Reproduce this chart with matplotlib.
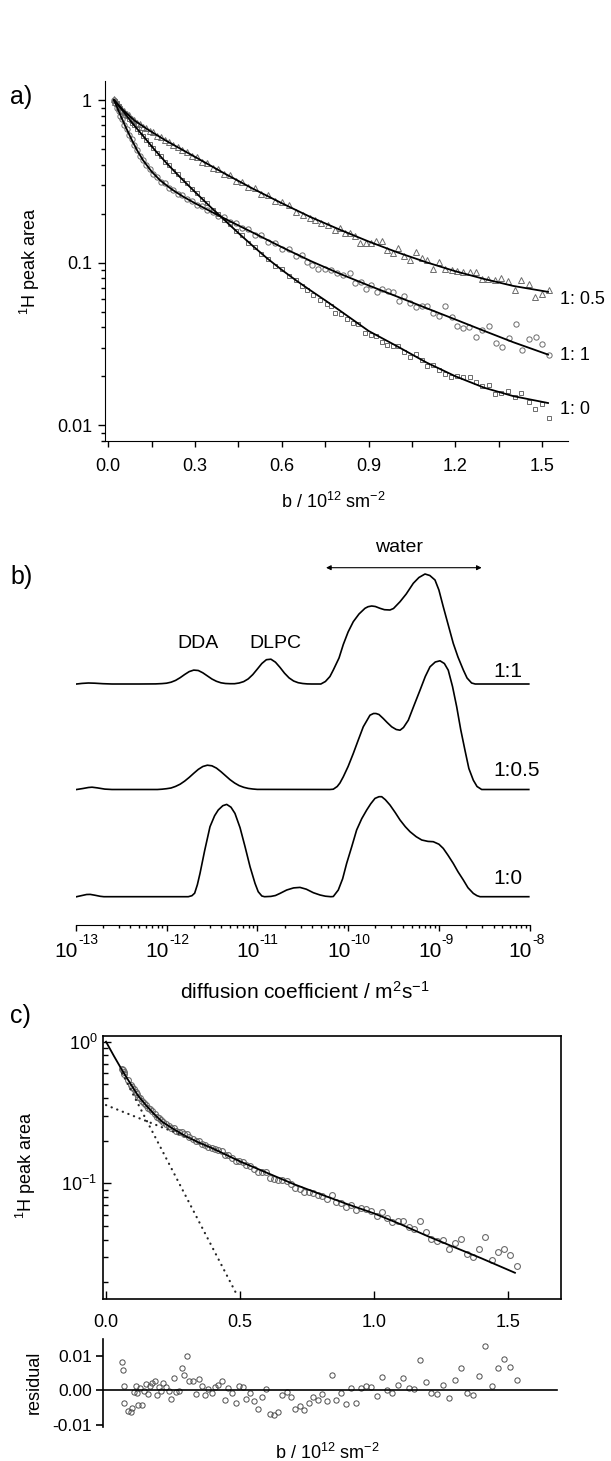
import numpy as np
import matplotlib
matplotlib.use('Agg')
import matplotlib.pyplot as plt
from matplotlib import ticker

plt.rcParams['font.family'] = ['Liberation Sans', 'DejaVu Sans']
plt.rcParams['mathtext.fontset'] = 'custom'
plt.rcParams['mathtext.rm'] = 'Liberation Sans'
plt.rcParams['mathtext.it'] = 'Liberation Sans:italic'
plt.rcParams['mathtext.bf'] = 'Liberation Sans:bold'


# %% Panel a data: 1H peak area vs b for three mixing ratios

b_low = [0.020, 0.025, 0.030, 0.036, 0.042, 0.049, 0.056, 0.064, 0.072, 0.081,
         0.090, 0.100, 0.110, 0.121, 0.132, 0.144, 0.156, 0.169, 0.182, 0.196,
         0.210, 0.225, 0.240, 0.256, 0.272, 0.289, 0.306, 0.324, 0.342, 0.361,
         0.380, 0.400, 0.420, 0.441, 0.462, 0.484, 0.506, 0.529, 0.552, 0.576,
         0.600, 0.625, 0.650]

tri_low = [1.01, 0.97, 0.96, 0.925, 0.91, 0.87, 0.855, 0.82, 0.805, 0.77,
           0.755, 0.725, 0.715, 0.685, 0.672, 0.645, 0.632, 0.600, 0.593, 0.565,
           0.554, 0.528, 0.517, 0.490, 0.480, 0.454, 0.446, 0.418, 0.412, 0.384,
           0.377, 0.350, 0.346, 0.318, 0.314, 0.292, 0.288, 0.264, 0.259, 0.238,
           0.236, 0.226, 0.206]
b_tri_tail = [0.674, 0.697, 0.714, 0.737, 0.760, 0.783, 0.801, 0.818, 0.835, 0.853,
              0.870, 0.890, 0.907, 0.925, 0.945, 0.964, 0.983, 1.002, 1.022, 1.043,
              1.062, 1.083, 1.103, 1.123, 1.144, 1.165, 1.187, 1.204, 1.227, 1.250,
              1.271, 1.291, 1.314, 1.336, 1.358, 1.382, 1.406, 1.427, 1.453, 1.476,
              1.499, 1.524]
tri_tail = [0.196, 0.187, 0.1826, 0.1742, 0.1702, 0.1585, 0.1645, 0.1512, 0.1526, 0.1456,
            0.1324, 0.1312, 0.1312, 0.1363, 0.135, 0.1194, 0.115, 0.1234, 0.1096, 0.1036,
            0.1166, 0.1061, 0.1036, 0.092, 0.1012, 0.0908, 0.0899, 0.0891, 0.0878, 0.087,
            0.0878, 0.0788, 0.0788, 0.078, 0.0803, 0.0773, 0.0677, 0.078, 0.0744, 0.0616,
            0.0637, 0.0677]

circ_low = [1.0, 0.96, 0.90, 0.86, 0.80, 0.762, 0.705, 0.665, 0.612, 0.575,
            0.527, 0.494, 0.453, 0.428, 0.397, 0.378, 0.351, 0.338, 0.315, 0.307,
            0.288, 0.281, 0.265, 0.259, 0.245, 0.240, 0.227, 0.223, 0.210, 0.206,
            0.193, 0.190, 0.178, 0.175, 0.163, 0.161, 0.148, 0.147, 0.134, 0.133,
            0.122, 0.121, 0.110]
b_circ_tail = [0.668, 0.686, 0.703, 0.726, 0.749, 0.769, 0.789, 0.812, 0.835, 0.853,
               0.873, 0.891, 0.908, 0.928, 0.945, 0.966, 0.985, 1.004, 1.023, 1.043,
               1.062, 1.083, 1.103, 1.123, 1.144, 1.164, 1.187, 1.206, 1.227, 1.248,
               1.270, 1.293, 1.316, 1.339, 1.362, 1.385, 1.408, 1.430, 1.453, 1.477,
               1.500, 1.524]
circ_tail = [0.1112, 0.1012, 0.0965, 0.092, 0.0908, 0.0899, 0.0858, 0.0838, 0.0866, 0.0751,
             0.0762, 0.0693, 0.0727, 0.0662, 0.0693, 0.0671, 0.0662, 0.0582, 0.0622, 0.0561,
             0.0535, 0.054, 0.054, 0.0491, 0.0469, 0.054, 0.046, 0.0407, 0.0394, 0.0403,
             0.035, 0.0388, 0.0407, 0.0321, 0.0303, 0.0346, 0.0422, 0.0292, 0.0337, 0.035,
             0.0315, 0.027]

sq_low = [0.99, 0.98, 0.955, 0.918, 0.90, 0.862, 0.838, 0.795, 0.768, 0.726,
          0.702, 0.660, 0.636, 0.597, 0.572, 0.533, 0.508, 0.472, 0.451, 0.417,
          0.398, 0.367, 0.350, 0.322, 0.307, 0.282, 0.268, 0.245, 0.232, 0.212,
          0.200, 0.183, 0.172, 0.156, 0.147, 0.133, 0.125, 0.113, 0.106, 0.096,
          0.091, 0.083, 0.078]
b_sq_tail = [0.668, 0.686, 0.709, 0.732, 0.755, 0.769, 0.784, 0.803, 0.824, 0.845,
             0.864, 0.887, 0.907, 0.925, 0.945, 0.964, 0.983, 1.002, 1.023, 1.043,
             1.062, 1.083, 1.103, 1.123, 1.144, 1.165, 1.186, 1.204, 1.227, 1.250,
             1.271, 1.293, 1.316, 1.336, 1.358, 1.383, 1.406, 1.427, 1.453, 1.476,
             1.499, 1.524]
sq_tail = [0.0717, 0.0677, 0.0631, 0.0588, 0.0556, 0.054, 0.0491, 0.0482, 0.0453, 0.0426,
           0.0422, 0.0367, 0.0358, 0.0353, 0.0326, 0.0311, 0.0306, 0.0306, 0.0283, 0.0263,
           0.0274, 0.0251, 0.0231, 0.0236, 0.022, 0.0208, 0.0198, 0.02, 0.0198, 0.0198,
           0.0185, 0.0175, 0.0178, 0.0155, 0.0158, 0.0163, 0.0149, 0.0158, 0.0139, 0.0125,
           0.0135, 0.0111]

# fitted curves
b_fit_tri = [0.02, 0.05, 0.09, 0.14, 0.20, 0.30, 0.40, 0.50, 0.60, 0.70, 0.80, 0.90,
             1.00, 1.10, 1.20, 1.30, 1.40, 1.52]
fit_tri = [1.0, 0.871, 0.750, 0.653, 0.562, 0.447, 0.355, 0.285, 0.232, 0.1905, 0.1596,
           0.1349, 0.1156, 0.1005, 0.0885, 0.0793, 0.0719, 0.0661]
b_fit_circ = [0.02, 0.04, 0.06, 0.08, 0.10, 0.12, 0.15, 0.18, 0.22, 0.26, 0.30, 0.36,
              0.42, 0.50, 0.60, 0.70, 0.80, 0.90, 1.00, 1.10, 1.20, 1.30, 1.40, 1.52]
fit_circ = [1.0, 0.822, 0.684, 0.575, 0.490, 0.427, 0.363, 0.320, 0.282, 0.254, 0.232,
            0.204, 0.180, 0.153, 0.1245, 0.1023, 0.0855, 0.0724, 0.0617, 0.0525, 0.0447,
            0.0380, 0.0324, 0.0272]
b_fit_sq = [0.02, 0.05, 0.08, 0.12, 0.16, 0.20, 0.25, 0.30, 0.35, 0.40, 0.45, 0.50, 0.55,
            0.60, 0.65, 0.70, 0.75, 0.80, 0.90, 1.00, 1.10, 1.20, 1.30, 1.40, 1.52]
fit_sq = [1.0, 0.861, 0.733, 0.603, 0.495, 0.412, 0.333, 0.272, 0.223, 0.184, 0.152,
          0.1265, 0.106, 0.0902, 0.0776, 0.0673, 0.0586, 0.0508, 0.0380, 0.0305, 0.0243,
          0.0200, 0.0170, 0.0151, 0.0137]

ratio_labels_a = ['1: 0.5', '1: 1', '1: 0']
ticks_a_x = [0.0, 0.3, 0.6, 0.9, 1.2, 1.5]
ticks_a_y = [0.01, 0.1, 1]


# %% Panel b data: diffusion coefficient distributions (log10 D, height)

logD_11 = [-12.99, -12.93, -12.86, -12.79, -12.70, -12.60, -12.30, -12.12, -12.05, -12.00,
           -11.95, -11.90, -11.85, -11.80, -11.75, -11.70, -11.65, -11.60, -11.55, -11.50,
           -11.45, -11.40, -11.35, -11.30, -11.25, -11.20, -11.15, -11.10, -11.05, -11.00,
           -10.95, -10.90, -10.85, -10.80, -10.75, -10.70, -10.65, -10.60, -10.55, -10.50,
           -10.45, -10.40, -10.30, -10.25, -10.20, -10.163, -10.10, -10.053, -10.00, -9.943,
           -9.88, -9.814, -9.78, -9.74, -9.70, -9.649, -9.60, -9.539, -9.50, -9.428,
           -9.36, -9.282, -9.22, -9.153, -9.10, -9.043, -9.00, -8.952, -8.90, -8.842,
           -8.79, -8.731, -8.69, -8.64, -8.60, -8.01]
h_11 = [0.0, 0.6, 1.0, 0.8, 0.3, 0.0, 0.0, 0.1, 0.4, 0.8,
        1.8, 3.6, 6.3, 9.5, 12.4, 13.9, 13.5, 11.2, 8.1, 5.0,
        2.7, 1.2, 0.5, 0.3, 0.3, 1.0, 2.4, 5.1, 9.4, 14.9,
        20.5, 24.3, 24.8, 21.8, 16.6, 10.8, 6.1, 3.0, 1.3, 0.5,
        0.1, 0.0, 0.0, 2.5, 7.5, 14.0, 26.0, 39.5, 52.0, 62.3,
        70.0, 75.7, 77.3, 78.0, 77.5, 75.7, 74.3, 74.0, 75.5, 82.3,
        90.0, 100.7, 106.5, 110.0, 108.5, 104.0, 94.0, 77.3, 60.0, 40.7,
        27.0, 14.0, 6.0, 1.0, 0.0, 0.0]

logD_105 = [-12.99, -12.92, -12.86, -12.82, -12.76, -12.68, -12.60, -12.10, -12.05, -12.00,
            -11.95, -11.90, -11.85, -11.80, -11.75, -11.70, -11.65, -11.60, -11.55, -11.50,
            -11.45, -11.40, -11.35, -11.30, -11.25, -11.20, -11.15, -11.10, -11.05, -11.00,
            -10.20, -10.163, -10.12, -10.09, -10.053, -10.00, -9.943, -9.89, -9.833, -9.759,
            -9.72, -9.693, -9.66, -9.613, -9.57, -9.52, -9.47, -9.428, -9.39, -9.337,
            -9.27, -9.208, -9.15, -9.098, -9.04, -8.988, -8.94, -8.897, -8.85, -8.804,
            -8.76, -8.713, -8.67, -8.621, -8.58, -8.529, -8.01]
h_105 = [0.0, 1.0, 2.0, 2.3, 1.6, 0.4, 0.0, 0.0, 0.3, 0.8,
         1.5, 3.1, 5.3, 8.4, 12.1, 16.2, 20.1, 23.0, 24.3, 23.7,
         21.4, 17.8, 13.8, 9.8, 6.5, 3.9, 2.2, 1.1, 0.5, 0.1,
         0.0, 0.3, 3.0, 6.5, 12.7, 23.0, 36.0, 49.0, 62.7, 74.3,
         76.0, 76.0, 75.0, 71.0, 67.0, 62.7, 60.0, 59.3, 62.0, 69.3,
         85.0, 99.3, 113.0, 122.7, 127.5, 128.7, 126.0, 119.3, 103.0, 82.7,
         60.0, 39.3, 21.0, 9.3, 3.0, 0.0, 0.0]

logD_10 = [-12.99, -12.93, -12.88, -12.84, -12.79, -12.73, -12.69, -11.76, -11.72, -11.69,
           -11.66, -11.631, -11.58, -11.521, -11.47, -11.43, -11.38, -11.337, -11.29, -11.246,
           -11.19, -11.135, -11.08, -11.025, -10.99, -10.95, -10.92, -10.85, -10.80, -10.75,
           -10.676, -10.60, -10.53, -10.46, -10.383, -10.309, -10.25, -10.19, -10.163, -10.108,
           -10.06, -10.016, -9.96, -9.906, -9.85, -9.795, -9.75, -9.704, -9.66, -9.63,
           -9.59, -9.539, -9.48, -9.428, -9.37, -9.318, -9.25, -9.189, -9.12, -9.062,
           -9.00, -8.952, -8.90, -8.842, -8.79, -8.731, -8.68, -8.621, -8.58, -8.547, -8.01]
h_10 = [0.0, 1.2, 2.2, 2.3, 1.5, 0.4, 0.0, 0.0, 1.0, 3.5,
        12.0, 23.3, 46.0, 70.0, 81.0, 86.7, 91.0, 92.3, 89.5, 83.3,
        69.0, 50.0, 30.0, 13.3, 5.0, 0.7, 0.0, 0.3, 1.2, 3.3,
        6.7, 8.8, 9.3, 7.5, 4.0, 1.7, 0.5, 0.0, 0.2, 6.7,
        18.0, 33.3, 50.0, 66.7, 78.0, 86.7, 93.0, 98.3, 100.0, 100.0,
        97.0, 91.7, 84.0, 76.7, 70.0, 65.0, 60.0, 56.7, 55.3, 55.0,
        52.5, 48.3, 41.5, 33.3, 25.0, 16.7, 9.0, 3.3, 1.0, 0.0, 0.0]

ratio_labels_b = ['1:1', '1:0.5', '1:0']
decades_b = [-13, -12, -11, -10, -9, -8]


# %% Panel c data: single decay with two-component fit and residuals

b_c = [0.060, 0.062, 0.066, 0.069, 0.081, 0.092, 0.098, 0.105, 0.111, 0.117,
       0.121, 0.127, 0.136, 0.142, 0.149, 0.157, 0.164, 0.172, 0.182, 0.189,
       0.197, 0.204, 0.214, 0.224, 0.234, 0.244, 0.254, 0.261, 0.274, 0.283,
       0.292, 0.302, 0.311, 0.324, 0.336, 0.346, 0.358, 0.369, 0.382, 0.394,
       0.408, 0.418, 0.432, 0.443, 0.457, 0.471, 0.484, 0.497, 0.510, 0.524,
       0.538, 0.553, 0.568, 0.583, 0.597, 0.612, 0.627, 0.642, 0.658, 0.675,
       0.691, 0.707, 0.723, 0.739, 0.757, 0.774, 0.790, 0.808, 0.825, 0.843,
       0.860, 0.879, 0.897, 0.915, 0.934, 0.953, 0.972, 0.991, 1.011, 1.031,
       1.049, 1.069, 1.090, 1.110, 1.131, 1.151, 1.171, 1.194, 1.215, 1.237,
       1.258, 1.281, 1.303, 1.326, 1.347, 1.370, 1.393, 1.416, 1.440, 1.463,
       1.486, 1.510, 1.534]

y_c = [0.640, 0.628, 0.607, 0.592, 0.540, 0.498, 0.480, 0.464, 0.445, 0.424,
       0.409, 0.402, 0.379, 0.371, 0.359, 0.343, 0.334, 0.323, 0.309, 0.296,
       0.289, 0.279, 0.271, 0.263, 0.255, 0.245, 0.245, 0.236, 0.229, 0.230,
       0.223, 0.223, 0.212, 0.207, 0.198, 0.198, 0.191, 0.186, 0.182, 0.177,
       0.175, 0.172, 0.168, 0.159, 0.158, 0.152, 0.144, 0.145, 0.142, 0.135,
       0.133, 0.127, 0.121, 0.121, 0.120, 0.110, 0.107, 0.105, 0.106, 0.104,
       0.099, 0.0926, 0.0909, 0.0876, 0.0868, 0.0859, 0.0826, 0.0819, 0.0778, 0.0830,
       0.0736, 0.0733, 0.0680, 0.0707, 0.0646, 0.0670, 0.0657, 0.0634, 0.0587, 0.0624,
       0.0568, 0.0538, 0.0542, 0.0541, 0.0494, 0.0473, 0.0539, 0.0454, 0.0406, 0.0390,
       0.0401, 0.0346, 0.0382, 0.0404, 0.0320, 0.0301, 0.0342, 0.0419, 0.0289, 0.0330,
       0.0345, 0.0311, 0.0262]

resid = [0.0083, 0.0058, 0.0014, -0.0036, -0.0059, -0.0063, -0.0050, -0.0005, 0.0012, -0.0008,
         -0.0043, 0.0006, -0.0043, -0.0001, 0.0018, -0.0011, 0.0012, 0.0021, 0.0028, -0.0014,
         0.0010, -0.0003, 0.0023, 0.0009, -0.0001, -0.0025, 0.0037, -0.0005, -0.0003, 0.0064,
         0.0045, 0.0101, 0.0026, 0.0026, -0.0010, 0.0034, 0.0014, -0.0014, 0.0004, -0.0008,
         0.0010, 0.0016, 0.0028, -0.0027, 0.0007, -0.0006, -0.0036, 0.0012, 0.0010, -0.0025,
         -0.0006, -0.0030, -0.0054, -0.0019, 0.0005, -0.0067, -0.0072, -0.0061, -0.0013, -0.0004,
         -0.0018, -0.0054, -0.0046, -0.0056, -0.0037, -0.0020, -0.0029, -0.0011, -0.0031, 0.0044,
         -0.0029, -0.0008, -0.0039, 0.0007, -0.0035, 0.0008, 0.0014, 0.0010, -0.0017, 0.0040,
         0.0002, -0.0008, 0.0017, 0.0035, 0.0007, 0.0004, 0.0088, 0.0024, -0.0008, -0.0009,
         0.0017, -0.0022, 0.0029, 0.0064, -0.0008, -0.0013, 0.0041, 0.0130, 0.0012, 0.0064,
         0.0091, 0.0069, 0.0031]

b_fit_c = [0.0, 0.03, 0.06, 0.09, 0.12, 0.15, 0.18, 0.21, 0.25, 0.30, 0.35, 0.40,
           0.50, 0.60, 0.70, 0.80, 0.90, 1.00, 1.10, 1.20, 1.30, 1.40, 1.527]
fit_c = [1.0, 0.79, 0.63, 0.51, 0.415, 0.355, 0.308, 0.272, 0.243, 0.214, 0.193, 0.176,
         0.143, 0.119, 0.099, 0.084, 0.0715, 0.0615, 0.0515, 0.0425, 0.0355, 0.0297, 0.0234]

# the two exponential components (dotted)
b_slow = [0.0, 0.33]
slow_c = [0.357, 0.202]
b_fast = [0.06, 0.49]
fast_c = [0.60, 0.0162]


# %% Figure layout (pixel based, 611 x 1461)

W, H = 611, 1461
fig = plt.figure(figsize=(W / 100, H / 100), dpi=100)


def box(left, top, right, bottom):
    return [left / W, 1 - bottom / H, (right - left) / W, (bottom - top) / H]


def ftext(x, y, s, **kw):
    fig.text(x / W, 1 - y / H, s, **kw)


grey = '0.42'
dots = (0, (0.1, 2.6))

# %% Panel a
ax_a = fig.add_axes(box(104.5, 81, 568, 441))
ax_a.set_yscale('log')

ax_a.plot(b_low + b_tri_tail, tri_low + tri_tail, '^', ms=4.2, mfc='none', mec=grey, mew=0.7)
ax_a.plot(b_low + b_circ_tail, circ_low + circ_tail, 'o', ms=3.8, mfc='none', mec=grey, mew=0.7)
ax_a.plot(b_low + b_sq_tail, sq_low + sq_tail, 's', ms=3.2, mfc='none', mec=grey, mew=0.7)
ax_a.plot(b_fit_tri, fit_tri, 'k-', lw=1.3)
ax_a.plot(b_fit_circ, fit_circ, 'k-', lw=1.3)
ax_a.plot(b_fit_sq, fit_sq, 'k-', lw=1.3)

ax_a.set_xlim(-0.013, 1.589)
ax_a.set_ylim(0.0080, 1.31)
for s in ['top', 'right']:
    ax_a.spines[s].set_visible(False)
ax_a.set_xticks(ticks_a_x)
ax_a.set_xticklabels(['%.1f' % v for v in ticks_a_x])
ax_a.xaxis.set_minor_locator(ticker.MultipleLocator(0.15))
ax_a.set_yticks(ticks_a_y)
ax_a.set_yticklabels(['0.01', '0.1', '1'])
ax_a.yaxis.set_minor_locator(ticker.LogLocator(base=10, subs=np.arange(2, 10)))
ax_a.yaxis.set_minor_formatter(ticker.NullFormatter())
ax_a.tick_params(which='major', direction='out', length=5, width=1, labelsize=13, pad=4)
ax_a.tick_params(which='minor', direction='out', length=3, width=1)
ax_a.tick_params(axis='x', which='both', length=4, pad=8)

ftext(10, 97, 'a)', fontsize=18, ha='left', va='center')
ftext(30, 261, '$^{1}$H peak area', fontsize=13, rotation=90, ha='center', va='center')
ftext(333, 502, 'b / 10$^{12}$ sm$^{-2}$', fontsize=13, ha='center', va='center')
for lab, yy in zip(ratio_labels_a, [300, 356, 409]):
    ftext(560, yy, lab, fontsize=13, ha='left', va='center')

# %% Panel b
ax_b = fig.add_axes(box(75.7, 530, 529.7, 925))
ax_b.set_xscale('log')
base_11, base_105, base_10 = 241, 135.5, 28.3
ax_b.plot(10 ** np.array(logD_11), np.array(h_11) + base_11, 'k-', lw=1.2)
ax_b.plot(10 ** np.array(logD_105), np.array(h_105) + base_105, 'k-', lw=1.2)
ax_b.plot(10 ** np.array(logD_10), np.array(h_10) + base_10, 'k-', lw=1.2)
ax_b.set_xlim(1e-13, 1e-8)
ax_b.set_ylim(0, 395)
for s in ['top', 'right', 'left']:
    ax_b.spines[s].set_visible(False)
ax_b.set_yticks([])
ax_b.set_xticks([10.0 ** e for e in decades_b])
ax_b.set_xticklabels([])
ax_b.xaxis.set_minor_locator(ticker.LogLocator(base=10, subs=np.arange(2, 10), numticks=50))
ax_b.xaxis.set_minor_formatter(ticker.NullFormatter())
ax_b.tick_params(which='major', direction='out', length=4.5, width=1)
ax_b.tick_params(which='minor', direction='out', length=2.5, width=1)

# decade labels drawn as "10" with a small raised exponent, like the original
xt = ax_b.get_xaxis_transform()
for e in decades_b:
    xpos = 10.0 ** (e + 2.5 / 90.8)
    ax_b.text(xpos, -0.080, '10', transform=xt, fontsize=15, ha='right', va='baseline')
    ax_b.text(xpos, -0.047, '-%d' % (-e), transform=xt, fontsize=10, ha='left', va='baseline')

ax_b.text(10 ** -11.65, 281, 'DDA', fontsize=14, ha='center', va='center')
ax_b.text(10 ** -10.796, 281, 'DLPC', fontsize=14, ha='center', va='center')
ax_b.text(10 ** -9.437, 378, 'water', fontsize=14, ha='center', va='center')
ax_b.annotate('', xy=(10 ** -8.529, 357.3), xytext=(10 ** -10.243, 357.3),
              arrowprops=dict(arrowstyle='<|-|>', color='k', lw=0.8,
                              mutation_scale=7, shrinkA=0, shrinkB=0))
for lab, yy in zip(ratio_labels_b, [253.3, 154.3, 46.7]):
    ax_b.text(10 ** -8.401, yy, lab, fontsize=15, ha='left', va='center')

ftext(10, 577, 'b)', fontsize=18, ha='left', va='center')
ftext(305, 992, 'diffusion coefficient / m$^{2}$s$^{-1}$', fontsize=15, ha='center', va='center')

# %% Panel c
ax_c = fig.add_axes(box(103, 1036, 561, 1299))
ax_c.set_yscale('log')
ax_c.plot(b_c, y_c, 'o', ms=4.2, mfc='none', mec=grey, mew=0.8)
ax_c.plot(b_fit_c, fit_c, 'k-', lw=1.3)
ax_c.plot(b_slow, slow_c, color='0.15', lw=1.6, linestyle=dots, dash_capstyle='round')
ax_c.plot(b_fast, fast_c, color='0.15', lw=1.6, linestyle=dots, dash_capstyle='round')
ax_c.set_xlim(-0.0112, 1.699)
ax_c.set_ylim(0.01528, 1.097)
for s in ax_c.spines.values():
    s.set_linewidth(1.2)
ax_c.set_xticks([0.0, 0.5, 1.0, 1.5])
ax_c.set_xticklabels(['0.0', '0.5', '1.0', '1.5'])
ax_c.set_yticks([0.1, 1])
ax_c.yaxis.set_major_formatter(ticker.LogFormatterSciNotation())
ax_c.yaxis.set_minor_locator(ticker.LogLocator(base=10, subs=np.arange(2, 10)))
ax_c.yaxis.set_minor_formatter(ticker.NullFormatter())
ax_c.tick_params(which='major', direction='in', length=6, width=1, labelsize=13)
ax_c.tick_params(which='minor', direction='in', length=3.5, width=1)
ax_c.tick_params(axis='x', which='major', pad=11)
ax_c.tick_params(axis='y', which='major', pad=4)

ftext(10, 1016, 'c)', fontsize=18, ha='left', va='center')
ftext(26, 1165, '$^{1}$H peak area', fontsize=13, rotation=90, ha='center', va='center')

# %% Residuals
ax_r = fig.add_axes(box(103, 1339, 561, 1426.7))
ax_r.plot(b_c, resid, 'o', ms=3.8, mfc='none', mec='0.3', mew=0.7)
ax_r.axhline(0, xmin=0, xmax=0.991, color='k', lw=1.2)
ax_r.set_xlim(-0.0112, 1.699)
ax_r.set_ylim(-0.0105, 0.0149)
for s in ['top', 'right', 'bottom']:
    ax_r.spines[s].set_visible(False)
ax_r.spines['left'].set_linewidth(1.2)
ax_r.set_xticks([])
ax_r.set_yticks([-0.01, 0.0, 0.01])
ax_r.set_yticklabels(['-0.01', '0.00', '0.01'])
ax_r.tick_params(axis='y', direction='out', length=5, width=1.2, labelsize=12.5, pad=3)

ftext(34, 1382, 'residual', fontsize=13, rotation=90, ha='center', va='center')
ftext(327, 1453, 'b / 10$^{12}$ sm$^{-2}$', fontsize=13, ha='center', va='center')

fig.savefig('out.png', dpi=100)
